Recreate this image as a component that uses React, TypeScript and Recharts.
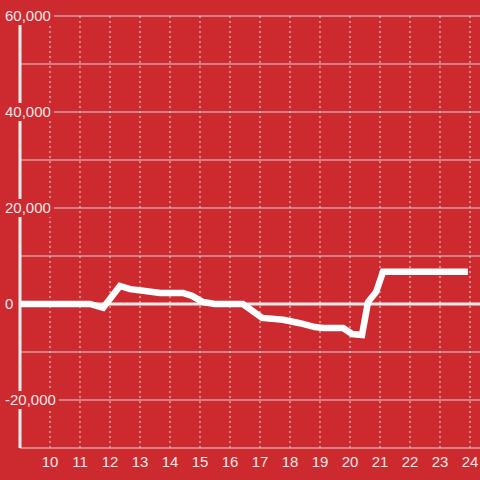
import { LineChart, Line, XAxis, YAxis, CartesianGrid, ReferenceLine } from 'recharts';

const BG = '#cd2a30';
const TEXT = '#f5e6e6';
const FONT = '"Liberation Sans", Arial, sans-serif';

// hour of day and running balance
const hours = [9, 11.33, 11.77, 12.33, 12.67, 13.17, 13.67, 14.43, 14.73, 15.1, 15.5, 16.43, 17.07, 17.77, 18.33, 18.83, 19.1, 19.77, 20.07, 20.4, 20.6, 20.87, 21.1, 23.93];
const balance = [0, 0, -800, 3750, 3100, 2700, 2300, 2300, 1700, 400, 0, 0, -2900, -3300, -4000, -4800, -5000, -5000, -6250, -6450, 400, 2500, 6700, 6700];

const xTicks = [10, 11, 12, 13, 14, 15, 16, 17, 18, 19, 20, 21, 22, 23, 24];
const yTicks = [-20000, -10000, 0, 10000, 20000, 30000, 40000, 50000, 60000];

const data = hours.map((t, i) => ({ t, v: balance[i] }));

function labelWidth(s: string): number {
  let w = 0;
  for (const ch of s) w += ch === ',' ? 4.2 : ch === '-' ? 5 : 8.34;
  return w;
}

function renderYTick(props: any) {
  const { y, payload } = props;
  const v = payload.value as number;
  if (v % 20000 !== 0) return <g />;
  const label = v.toLocaleString('en-US');
  const w = labelWidth(label);
  return (
    <g>
      <rect x={3} y={y - 9} width={w + 5} height={18} fill={BG} />
      <text x={5} y={y} dy="0.36em" textAnchor="start" fill={TEXT} fontSize={15} fontFamily={FONT}>
        {label}
      </text>
    </g>
  );
}

export default function App() {
  return (
    <div style={{ position: 'fixed', left: 0, top: 0, width: 480, height: 480, background: BG }}>
      <LineChart width={480} height={480} data={data} margin={{ top: 16, right: 0, left: 0, bottom: 0 }}>
        <CartesianGrid vertical={false} syncWithTicks stroke="#d9d2d2" strokeWidth={1} />
        <CartesianGrid
          horizontal={false}
          verticalValues={xTicks}
          stroke="#dcdcd6"
          strokeDasharray="2 3"
          strokeWidth={1}
        />
        <XAxis
          dataKey="t"
          type="number"
          domain={[9, 24.333]}
          ticks={xTicks}
          allowDataOverflow
          axisLine={{ stroke: '#ddd6d6', strokeWidth: 1 }}
          tickLine={false}
          tick={{ fill: TEXT, fontSize: 15, fontFamily: FONT }}
          height={32}
        />
        <YAxis
          type="number"
          width={20}
          domain={[-30000, 60000]}
          ticks={yTicks}
          interval={0}
          allowDataOverflow
          axisLine={{ stroke: '#f4eeee', strokeWidth: 3 }}
          tickLine={false}
          tick={renderYTick}
        />
        <ReferenceLine y={0} stroke="#f1e9e9" strokeWidth={3} />
        <Line
          type="linear"
          dataKey="v"
          stroke="#ffffff"
          strokeWidth={6.5}
          dot={false}
          isAnimationActive={false}
        />
      </LineChart>
    </div>
  );
}
